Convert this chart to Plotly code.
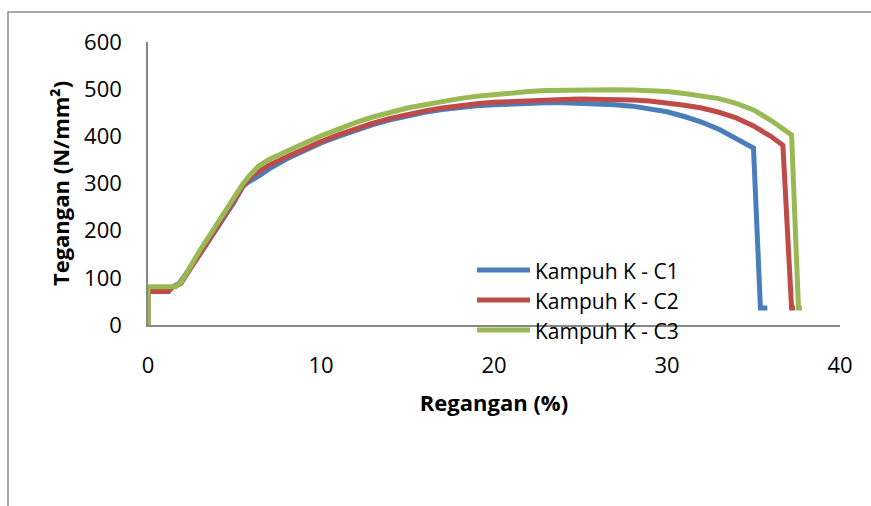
import plotly.graph_objects as go

# Regangan (%) / Tegangan (N/mm²) readings for each specimen
strain_c1 = [0, 0, 1.3, 1.8, 3, 4, 5, 5.5, 5.8, 6.5, 7, 8, 9, 10, 11, 12, 13, 14, 15, 16, 17,
             18, 19, 20, 21, 22, 23, 24, 25, 26, 27, 28, 29, 30, 31, 32, 33, 34, 35.0, 35.4, 35.8]
stress_c1 = [0, 78, 78, 88, 150, 205, 262, 295, 303, 318, 331, 352, 369, 386, 400, 413, 425, 435, 444, 451, 457,
             462, 465, 467, 469, 470, 471, 471, 470, 469, 467, 464, 459, 452, 442, 430, 415, 395, 375, 36, 36]

strain_c2 = [0, 0, 1.2, 1.4, 1.9, 3, 4, 5, 5.6, 6.0, 6.5, 7, 8, 9, 10, 11, 12, 13, 14, 15, 16,
             17, 18, 19, 20, 21, 22, 23, 24, 25, 26, 27, 28, 29, 30, 31, 32, 33, 34, 35, 36, 36.7, 37.2, 37.4]
stress_c2 = [0, 71, 71, 80, 88, 152, 208, 265, 300, 316, 328, 339, 356, 373, 389, 403, 416, 428, 438, 447, 454,
             460, 465, 469, 472, 474, 476, 477, 478, 479, 479, 478, 477, 475, 471, 466, 460, 451, 439, 422, 400, 381, 36, 36]

strain_c3 = [0, 0, 1.6, 1.9, 3, 4, 5, 5.5, 5.9, 6.4, 7, 7.6, 8, 9, 10, 11, 12, 13, 14, 15, 16,
             17, 18, 19, 20, 21, 22, 23, 24, 25, 26, 27, 28, 29, 30, 31, 32, 33, 34, 35, 36, 37.2, 37.6, 37.8]
stress_c3 = [0, 81, 81, 90, 158, 215, 272, 300, 318, 337, 351, 362, 369, 385, 401, 416, 429, 441, 451, 460, 467,
             474, 480, 485, 489, 492, 495, 497, 498, 499, 499, 499, 498, 497, 495, 491, 486, 480, 470, 456, 434, 403, 36, 36]

series_names = ["Kampuh K - C1", "Kampuh K - C2", "Kampuh K - C3"]
series_colors = ["#4A7EBB", "#BE4B48", "#98B954"]

x_ticks = [0, 10, 20, 30, 40]
y_ticks = [0, 100, 200, 300, 400, 500, 600]

FONT = "Open Sans"
AXIS_GREY = "#868686"

fig = go.Figure()
for xs, ys, name, color in zip([strain_c1, strain_c2, strain_c3],
                               [stress_c1, stress_c2, stress_c3],
                               series_names, series_colors):
    fig.add_trace(go.Scatter(x=xs, y=ys, mode="lines", name=name,
                             line=dict(color=color, width=5),
                             showlegend=False, hoverinfo="skip"))

# plot area in pixels: x 148..840, y 42..325
L, R, T, B = 148, 840, 42, 325
W, H = R - L, B - T


def px(xp):
    return (xp - L) / W


def py(yp):
    return (B - yp) / H


shapes = [
    # outer chart frame (left and top edges fall inside the page)
    dict(type="rect", xref="paper", yref="paper",
         x0=px(8), x1=px(900), y0=py(540), y1=py(12),
         line=dict(color="#8C8C8C", width=1.5), fillcolor="rgba(0,0,0,0)", layer="below"),
]

annotations = []
legend_rows = [270, 300, 330]
for name, color, ry in zip(series_names, series_colors, legend_rows):
    shapes.append(dict(type="line", xref="paper", yref="paper",
                       x0=px(477), x1=px(530), y0=py(ry), y1=py(ry),
                       line=dict(color=color, width=5)))
    annotations.append(dict(xref="paper", yref="paper", x=px(533), y=py(ry + 1),
                            text=name, showarrow=False, xanchor="left", yanchor="middle",
                            font=dict(family=FONT, size=21, color="#000000")))

fig.update_layout(
    width=871, height=506,
    margin=dict(l=L, r=871 - R, t=T, b=506 - B),
    paper_bgcolor="white", plot_bgcolor="white",
    font=dict(family=FONT, color="#000000"),
    shapes=shapes, annotations=annotations,
    xaxis=dict(range=[0, 40], tickvals=x_ticks, ticktext=[str(v) for v in x_ticks],
               showgrid=False, zeroline=False, showline=True, linecolor=AXIS_GREY, linewidth=1.5,
               ticks="", tickfont=dict(family=FONT, size=22), ticklabelstandoff=20,
               title=dict(text="<b>Regangan (%)</b>", font=dict(family=FONT, size=22), standoff=17)),
    yaxis=dict(range=[0, 600], tickvals=y_ticks, ticktext=[str(v) for v in y_ticks],
               showgrid=False, zeroline=False, showline=True, linecolor=AXIS_GREY, linewidth=1.5,
               ticks="", tickfont=dict(family=FONT, size=22), ticklabelstandoff=20,
               title=dict(text="<b>Tegangan (N/mm²)</b>", font=dict(family=FONT, size=22), standoff=8)),
)

fig.write_html("out.html")
